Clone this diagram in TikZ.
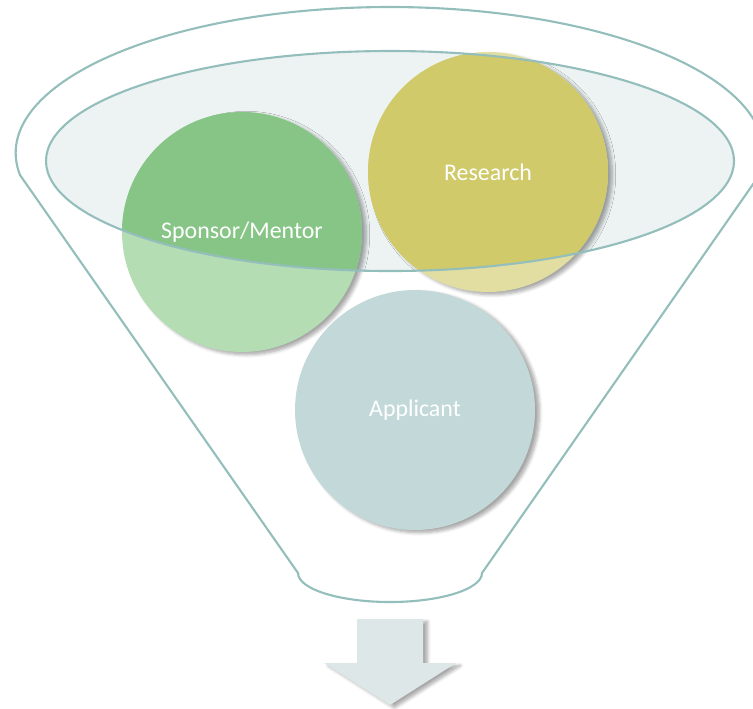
\documentclass[tikz,border=0pt]{standalone}
\usepackage{fontspec}
\setmainfont{Carlito}
\usepackage{xcolor}
\usepackage{tikz}
\usetikzlibrary{shadows,shadows.blur}

\definecolor{funnelline}{HTML}{93BEBB}
\definecolor{rimfill}{HTML}{EDF3F3}
\definecolor{greendark}{HTML}{86C586}
\definecolor{greenlight}{HTML}{B4DDB4}
\definecolor{oliveldark}{HTML}{D0CA6A}
\definecolor{olivelight}{HTML}{E2DEA2}
\definecolor{tealpale}{HTML}{C3D9D9}
\definecolor{arrowfill}{HTML}{DDE7E8}

\tikzset{
  bubble/.style={circle, minimum size=4.8cm, inner sep=0pt, outer sep=0pt,
    blur shadow={shadow xshift=2.5pt, shadow yshift=-1.5pt, shadow opacity=35, shadow blur steps=6}},
  bubbletext/.style={text=white, font=\fontsize{13.6}{16}\selectfont},
  rim/.style={draw=funnelline, line width=1.2pt}
}

\begin{document}
\begin{tikzpicture}[x=0.02cm, y=-0.02cm]

\useasboundingbox (0,0) rectangle (753,708);

\draw[rim] (20,175) arc[start angle=171.33, end angle=368.67, x radius=374, y radius=146]
  -- (482,573) arc[start angle=0, end angle=180, x radius=92, y radius=29] -- cycle;

\fill[rimfill] (390,161) ellipse[x radius=344, y radius=110];

\node[bubble, fill=greenlight] (sponsor) at (242,232) {};
\node[bubble, fill=olivelight] (research) at (488,172) {};
\node[bubble, fill=tealpale] (applicant) at (415,410) {};

\begin{scope}
  \clip (390,161) ellipse[x radius=344, y radius=110];
  \fill[greendark] (sponsor.center) circle[radius=120];
  \fill[oliveldark] (research.center) circle[radius=120];
\end{scope}

\draw[rim] (390,161) ellipse[x radius=344, y radius=110];

\node[bubbletext] (sponsorlbl) at (sponsor) {Sponsor/Mentor};
\node[bubbletext] (researchlbl) at (research) {Research};
\node[bubbletext] (applicantlbl) at (applicant) {Applicant};

\fill[arrowfill, blur shadow={shadow xshift=2.5pt, shadow yshift=-1.5pt, shadow opacity=35, shadow blur steps=6}]
  (357,619) -- (423,619) -- (423,663) -- (456,663) -- (390,705) -- (324,663) -- (357,663) -- cycle;

\end{tikzpicture}
\end{document}
